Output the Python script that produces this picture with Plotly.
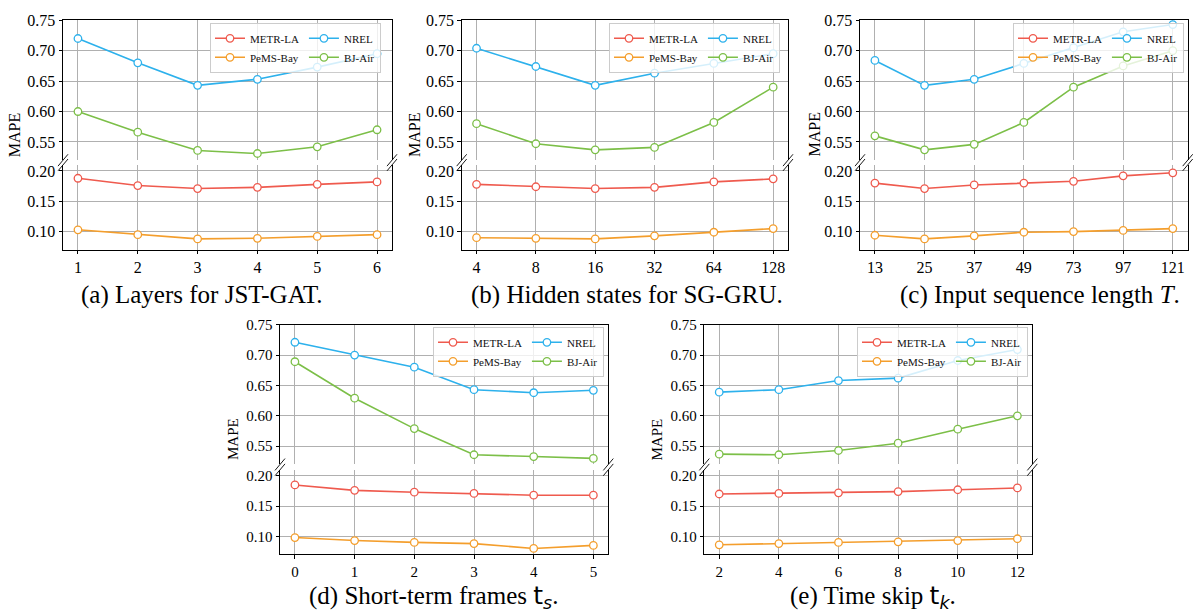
import plotly.graph_objects as go

W, H = 1201, 614

# ---------------- data ----------------
series_names = ["METR-LA", "PeMS-Bay", "NREL", "BJ-Air"]

# (a) Layers for JST-GAT
a_x = [1, 2, 3, 4, 5, 6]
a_metr = [0.188, 0.176, 0.171, 0.173, 0.178, 0.182]
a_pems = [0.103, 0.095, 0.088, 0.089, 0.092, 0.095]
a_nrel = [0.720, 0.680, 0.643, 0.653, 0.673, 0.695]
a_bj = [0.600, 0.566, 0.536, 0.531, 0.542, 0.570]

# (b) Hidden states for SG-GRU
b_x = ["4", "8", "16", "32", "64", "128"]
b_metr = [0.178, 0.174, 0.171, 0.173, 0.182, 0.187]
b_pems = [0.090, 0.089, 0.088, 0.093, 0.099, 0.105]
b_nrel = [0.704, 0.674, 0.643, 0.663, 0.679, 0.695]
b_bj = [0.580, 0.547, 0.537, 0.541, 0.582, 0.640]

# (c) Input sequence length T
c_x = ["13", "25", "37", "49", "73", "97", "121"]
c_metr = [0.180, 0.171, 0.177, 0.180, 0.183, 0.192, 0.197]
c_pems = [0.094, 0.088, 0.093, 0.099, 0.100, 0.102, 0.105]
c_nrel = [0.684, 0.643, 0.653, 0.679, 0.705, 0.731, 0.743]
c_bj = [0.560, 0.537, 0.546, 0.582, 0.640, 0.675, 0.700]

# (d) Short-term frames t_s
d_x = [0, 1, 2, 3, 4, 5]
d_metr = [0.185, 0.176, 0.173, 0.171, 0.168, 0.168]
d_pems = [0.098, 0.093, 0.090, 0.088, 0.080, 0.085]
d_nrel = [0.721, 0.700, 0.680, 0.643, 0.638, 0.642]
d_bj = [0.689, 0.629, 0.579, 0.536, 0.533, 0.530]

# (e) Time skip t_k
e_x = [2, 4, 6, 8, 10, 12]
e_metr = [0.170, 0.171, 0.172, 0.174, 0.177, 0.180]
e_pems = [0.086, 0.088, 0.090, 0.091, 0.093, 0.096]
e_nrel = [0.639, 0.643, 0.658, 0.662, 0.691, 0.709]
e_bj = [0.537, 0.536, 0.543, 0.555, 0.578, 0.600]

upper_ticks = [0.55, 0.60, 0.65, 0.70, 0.75]
lower_ticks = [0.10, 0.15, 0.20]

captions = [
    "(a) Layers for JST-GAT.",
    "(b) Hidden states for SG-GRU.",
    "(c) Input sequence length <i>T</i>.",
    "(d) Short-term frames <span style=\"font-family:'DejaVu Sans'\">t<sub><i>s</i></sub></span>.",
    "(e) Time skip <span style=\"font-family:'DejaVu Sans'\">t<sub><i>k</i></sub></span>.",
]

# ---------------- styling ----------------
colors = {"METR-LA": "#EF5A4E", "PeMS-Bay": "#F49E2C", "NREL": "#2DB1EC", "BJ-Air": "#7CBF48"}
FONT = "Liberation Serif, Times New Roman, serif"
GRID = "#b0b0b0"

rows = [
    dict(ut=12.3, ub=154.2, lt=159.0, lb=245.0, cap_y=291, tick=16, lab=16, leg_t=15),
    dict(ut=320.7, ub=462.5, lt=467.9, lb=553.7, cap_y=597, tick=15, lab=15, leg_t=323),
]

panels = [
    dict(x=a_x, s=[a_metr, a_pems, a_nrel, a_bj], xl=63, xr=392, row=0, xr_=[0.75, 6.25], xt="linear",
         cap_x=202, lab_x=15.3, leg_r=381),
    dict(x=b_x, s=[b_metr, b_pems, b_nrel, b_bj], xl=461.7, xr=788, row=0, xr_=[-0.25, 5.25], xt="category",
         cap_x=627, lab_x=415, leg_r=780),
    dict(x=c_x, s=[c_metr, c_pems, c_nrel, c_bj], xl=860, xr=1187.7, row=0, xr_=[-0.3, 6.3], xt="category",
         cap_x=1040, lab_x=814.5, leg_r=1184),
    dict(x=d_x, s=[d_metr, d_pems, d_nrel, d_bj], xl=280, xr=608.3, row=1, xr_=[-0.25, 5.25], xt="linear",
         cap_x=434, lab_x=232.5, leg_r=604),
    dict(x=e_x, s=[e_metr, e_pems, e_nrel, e_bj], xl=704.3, xr=1032.3, row=1, xr_=[1.5, 12.5], xt="linear",
         cap_x=873, lab_x=657, leg_r=1028),
]


def px(p):
    return p / W


def py(p):
    return 1 - p / H


fig = go.Figure()
layout = dict(
    width=W, height=H, autosize=False,
    margin=dict(l=0, r=0, t=0, b=0, pad=0),
    paper_bgcolor="white", plot_bgcolor="white",
    font=dict(family=FONT, color="black"),
    annotations=[], shapes=[],
)

for i, p in enumerate(panels):
    r = rows[p["row"]]
    u, l = 2 * i + 1, 2 * i + 2
    legid = "legend" if i == 0 else f"legend{i + 1}"
    for k, name in enumerate(series_names):
        ax = l if k < 2 else u
        fig.add_trace(go.Scatter(
            x=p["x"], y=p["s"][k], mode="lines+markers", name=name,
            line=dict(color=colors[name], width=1.6),
            marker=dict(symbol="circle", size=7.5, color="white",
                        line=dict(color=colors[name], width=1.3)),
            xaxis=f"x{ax}", yaxis=f"y{ax}",
            legend=legid, legendgroup=f"p{i}g{k // 2}",
        ))
    xd = [px(p["xl"]), px(p["xr"])]
    tv = dict(tickvals=p["x"]) if p["xt"] == "linear" else {}
    common_x = dict(domain=xd, range=p["xr_"], type=p["xt"], showgrid=True, gridcolor=GRID,
                    gridwidth=0.8, zeroline=False, linecolor="black", linewidth=0.9, showline=True, **tv)
    common_y = dict(showgrid=True, gridcolor=GRID, gridwidth=0.8, zeroline=False, showline=True,
                    mirror=True, linecolor="black", linewidth=0.9, ticks="outside", ticklen=3.5,
                    tickwidth=0.8, tickcolor="black", tickformat=".2f",
                    tickfont=dict(family=FONT, size=r["tick"], color="black"))
    nm = lambda a, n: a if n == 1 else f"{a}{n}"
    layout[nm("xaxis", u)] = dict(common_x, anchor=f"y{u}", side="top", ticks="", showticklabels=False)
    layout[nm("xaxis", l)] = dict(common_x, anchor=f"y{l}", side="bottom", ticks="outside", ticklen=3.5,
                                  tickwidth=0.8, tickcolor="black",
                                  tickfont=dict(family=FONT, size=r["tick"], color="black"))
    layout[nm("yaxis", u)] = dict(common_y, anchor=f"x{u}", domain=[py(r["ub"]), py(r["ut"])],
                                  range=[0.52, 0.7502], tickvals=upper_ticks)
    layout[nm("yaxis", l)] = dict(common_y, anchor=f"x{l}", domain=[py(r["lb"]), py(r["lt"])],
                                  range=[0.07, 0.21], tickvals=lower_ticks)
    layout[legid] = dict(
        x=px(p["leg_r"]), y=py(r["leg_t"]), xanchor="right", yanchor="top",
        orientation="h", traceorder="grouped", tracegroupgap=0,
        bgcolor="rgba(255,255,255,0.8)", bordercolor="#cccccc", borderwidth=1,
        font=dict(family=FONT, size=11, color="#111111"), itemwidth=30,
    )
    # captions and y-labels
    layout["annotations"].append(dict(
        text=captions[i], x=px(p["cap_x"]), y=py(r["cap_y"]), xref="paper", yref="paper",
        xanchor="center", yanchor="middle", showarrow=False,
        font=dict(family=FONT, size=25, color="black")))
    layout["annotations"].append(dict(
        text="MAPE", x=px(p["lab_x"]), y=py((r["ut"] + r["lb"]) / 2), xref="paper", yref="paper",
        xanchor="center", yanchor="middle", showarrow=False, textangle=-90,
        font=dict(family=FONT, size=r["lab"], color="black")))
    # break marks
    for xs in (p["xl"], p["xr"]):
        for ys in (r["ub"], r["lt"]):
            layout["shapes"].append(dict(
                type="line", xref="paper", yref="paper",
                x0=px(xs - 5), y0=py(ys + 6), x1=px(xs + 5), y1=py(ys - 6),
                line=dict(color="black", width=0.9)))

fig.update_layout(**layout)
fig.write_html("out.html")
